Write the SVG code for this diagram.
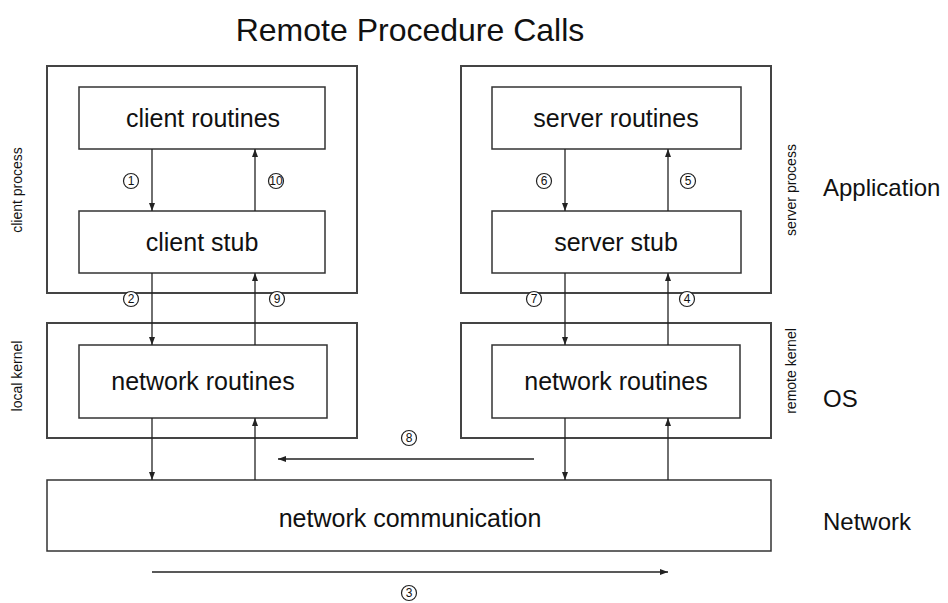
<svg xmlns="http://www.w3.org/2000/svg" width="948" height="603" viewBox="0 0 948 603">
<style>
.outer{fill:none;stroke:#444;stroke-width:2}
.box{fill:#fff;stroke:#333;stroke-width:1.5}
.lbl{font-family:"Liberation Sans",Arial,sans-serif;font-size:25px;fill:#111;text-anchor:middle}
.side{font-family:"Liberation Sans",Arial,sans-serif;font-size:24px;fill:#111}
.small{font-family:"Liberation Sans",Arial,sans-serif;font-size:14px;fill:#111;text-anchor:middle}
.num{font-family:"Liberation Sans",Arial,sans-serif;font-size:12px;fill:#111;text-anchor:middle}
.circ{fill:#fff;stroke:#222;stroke-width:1.2}
.conn{stroke:#222;stroke-width:1.3;fill:none;marker-end:url(#ah)}
</style>
<defs>
<marker id="ah" markerWidth="8" markerHeight="6" refX="8" refY="3" orient="auto" markerUnits="userSpaceOnUse">
<path d="M0,0 L8,3 L0,6 Z" fill="#222"/>
</marker>
</defs>
<rect width="948" height="603" fill="#fff"/>
<text x="410" y="41" font-family="Liberation Sans,Arial,sans-serif" font-size="32" text-anchor="middle" fill="#111">Remote Procedure Calls</text>

<g id="client-process"><rect class="outer" x="47" y="66" width="310" height="227"/>
<text class="small" transform="translate(22,190) rotate(-90)">client process</text></g>
<g id="local-kernel"><rect class="outer" x="47" y="323" width="310" height="115"/>
<text class="small" transform="translate(22,376) rotate(-90)">local kernel</text></g>
<g id="server-process"><rect class="outer" x="461" y="66" width="310" height="227"/>
<text class="small" transform="translate(796,190) rotate(-90)">server process</text></g>
<g id="remote-kernel"><rect class="outer" x="461" y="323" width="310" height="115"/>
<text class="small" transform="translate(796,371) rotate(-90)">remote kernel</text></g>

<g id="client-routines"><rect class="box" x="79" y="87" width="246" height="62"/><text class="lbl" x="203" y="127">client routines</text></g>
<g id="client-stub"><rect class="box" x="79" y="211" width="246" height="62"/><text class="lbl" x="202" y="251">client stub</text></g>
<g id="client-net"><rect class="box" x="79" y="345" width="248" height="73"/><text class="lbl" x="203" y="390">network routines</text></g>
<g id="server-routines"><rect class="box" x="492" y="87" width="249" height="62"/><text class="lbl" x="616" y="127">server routines</text></g>
<g id="server-stub"><rect class="box" x="492" y="211" width="249" height="62"/><text class="lbl" x="616" y="251">server stub</text></g>
<g id="server-net"><rect class="box" x="492" y="345" width="248" height="73"/><text class="lbl" x="616" y="390">network routines</text></g>
<g id="network-comm"><rect class="box" x="47" y="480" width="724" height="71"/><text class="lbl" x="410" y="527">network communication</text></g>

<g id="layers">
<text class="side" x="823" y="196">Application</text>
<text class="side" x="823" y="407">OS</text>
<text class="side" x="823" y="530">Network</text>
</g>

<g id="connectors">
<line class="conn" x1="152" y1="149" x2="152" y2="211"/>
<line class="conn" x1="255" y1="211" x2="255" y2="149"/>
<line class="conn" x1="152" y1="273" x2="152" y2="345"/>
<line class="conn" x1="255" y1="345" x2="255" y2="273"/>
<line class="conn" x1="152" y1="418" x2="152" y2="480"/>
<line class="conn" x1="255" y1="480" x2="255" y2="418"/>
<line class="conn" x1="565" y1="149" x2="565" y2="211"/>
<line class="conn" x1="668" y1="211" x2="668" y2="149"/>
<line class="conn" x1="565" y1="273" x2="565" y2="345"/>
<line class="conn" x1="668" y1="345" x2="668" y2="273"/>
<line class="conn" x1="565" y1="418" x2="565" y2="480"/>
<line class="conn" x1="668" y1="480" x2="668" y2="418"/>
<line class="conn" x1="534" y1="459" x2="278" y2="459"/>
<line class="conn" x1="152" y1="572" x2="668" y2="572"/>
</g>

<g id="steps">
<circle class="circ" cx="131" cy="181" r="7.5"/><text class="num" x="131" y="185">1</text>
<circle class="circ" cx="276" cy="181" r="7.5"/><text class="num" x="276" y="185">10</text>
<circle class="circ" cx="131" cy="299" r="7.5"/><text class="num" x="131" y="303">2</text>
<circle class="circ" cx="277" cy="299" r="7.5"/><text class="num" x="277" y="303">9</text>
<circle class="circ" cx="544" cy="181" r="7.5"/><text class="num" x="544" y="185">6</text>
<circle class="circ" cx="688" cy="181" r="7.5"/><text class="num" x="688" y="185">5</text>
<circle class="circ" cx="534" cy="299" r="7.5"/><text class="num" x="534" y="303">7</text>
<circle class="circ" cx="687" cy="299" r="7.5"/><text class="num" x="687" y="303">4</text>
<circle class="circ" cx="409" cy="438" r="7.5"/><text class="num" x="409" y="442">8</text>
<circle class="circ" cx="409" cy="593" r="7.5"/><text class="num" x="409" y="597">3</text>
</g>
</svg>
